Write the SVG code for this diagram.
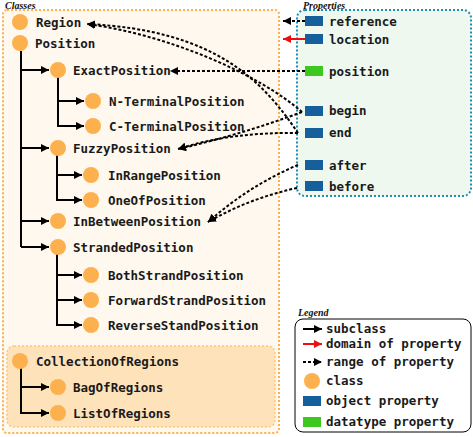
<svg xmlns="http://www.w3.org/2000/svg" width="473" height="437" viewBox="0 0 473 437">
<defs>
<style>
.lbl{font-family:"DejaVu Sans Mono","Liberation Mono",monospace;font-size:12.5px;font-weight:bold;fill:#1a1a1a;}
.ttl{font-family:"Liberation Serif",serif;font-style:italic;font-weight:bold;font-size:10px;fill:#111;}
.cls{fill:#FDB14E;}
.obj{fill:#155F9C;}
.dat{fill:#3CC81E;}
.sub{fill:none;stroke:#000;stroke-width:2;}
.rng{fill:none;stroke:#000;stroke-width:2;stroke-dasharray:3 2;}
.dom{fill:none;stroke:#E81010;stroke-width:2;}
</style>
<marker id="ah" markerUnits="userSpaceOnUse" markerWidth="10" markerHeight="10" refX="8" refY="4" orient="auto"><path d="M0,0 L8,4 L0,8 Z" fill="#000"/></marker>
<marker id="ahr" markerUnits="userSpaceOnUse" markerWidth="10" markerHeight="10" refX="8" refY="4" orient="auto"><path d="M0,0 L8,4 L0,8 Z" fill="#E81010"/></marker>
</defs>
<rect width="473" height="437" fill="#fff"/>

<!-- containers -->
<g id="classes-box">
<rect x="3" y="10" width="276" height="423" rx="4" fill="#FFF8EE" stroke="#FDB14E" stroke-width="2" stroke-dasharray="2 2"/>
<text class="ttl" x="5" y="9">Classes</text>
</g>
<g id="collection-box">
<rect x="7" y="346" width="268" height="81" rx="7" fill="#FDE2BA" stroke="#FDC77A" stroke-width="1.5" stroke-dasharray="2 2"/>
</g>
<g id="properties-box">
<rect x="297" y="10" width="174" height="186" rx="8" fill="#EEF8EE" stroke="#1E8EB4" stroke-width="2" stroke-dasharray="2 2"/>
<text class="ttl" x="303" y="9">Properties</text>
</g>

<!-- connectors -->
<g id="connectors">
<!-- subclass -->
<path class="sub" d="M21,51 V247"/>
<path class="sub" d="M21,70 H49" marker-end="url(#ah)"/>
<path class="sub" d="M21,148 H49" marker-end="url(#ah)"/>
<path class="sub" d="M21,221 H49" marker-end="url(#ah)"/>
<path class="sub" d="M21,247 H49" marker-end="url(#ah)"/>
<path class="sub" d="M58,77 V126 H84" marker-end="url(#ah)"/>
<path class="sub" d="M58,101 H84" marker-end="url(#ah)"/>
<path class="sub" d="M57,155 V200 H82" marker-end="url(#ah)"/>
<path class="sub" d="M57,175 H82" marker-end="url(#ah)"/>
<path class="sub" d="M57,254 V325 H82" marker-end="url(#ah)"/>
<path class="sub" d="M57,275 H82" marker-end="url(#ah)"/>
<path class="sub" d="M57,300 H82" marker-end="url(#ah)"/>
<path class="sub" d="M21,368 V413 H49" marker-end="url(#ah)"/>
<path class="sub" d="M21,387 H49" marker-end="url(#ah)"/>
<!-- domain -->
<path class="dom" d="M305,39 H283" marker-end="url(#ahr)"/>
<!-- range -->
<path class="rng" d="M305,21 H283" marker-end="url(#ah)"/>
<path class="rng" d="M305,71 H170" marker-end="url(#ah)"/>
<path class="rng" d="M302,112 C260,75 170,35 87,24" marker-end="url(#ah)"/>
<path class="rng" d="M298,133 C262,80 215,30 87,24" marker-end="url(#ah)"/>
<path class="rng" d="M302,112 Q240,135 178,149" marker-end="url(#ah)"/>
<path class="rng" d="M298,133 Q230,132 178,149" marker-end="url(#ah)"/>
<path class="rng" d="M298,165 Q250,185 208,222" marker-end="url(#ah)"/>
<path class="rng" d="M297,188 Q250,198 208,222" marker-end="url(#ah)"/>
</g>

<!-- class nodes -->
<g id="Region"><circle class="cls" cx="20" cy="22" r="8"/><text class="lbl" x="36" y="27">Region</text></g>
<g id="Position"><circle class="cls" cx="20" cy="43" r="8"/><text class="lbl" x="35" y="48">Position</text></g>
<g id="ExactPosition"><circle class="cls" cx="58" cy="70" r="8"/><text class="lbl" x="73" y="75">ExactPosition</text></g>
<g id="N-TerminalPosition"><circle class="cls" cx="93" cy="101" r="8"/><text class="lbl" x="109" y="106">N-TerminalPosition</text></g>
<g id="C-TerminalPosition"><circle class="cls" cx="93" cy="126" r="8"/><text class="lbl" x="109" y="131">C-TerminalPosition</text></g>
<g id="FuzzyPosition"><circle class="cls" cx="58" cy="148" r="8"/><text class="lbl" x="73" y="153">FuzzyPosition</text></g>
<g id="InRangePosition"><circle class="cls" cx="91" cy="175" r="8"/><text class="lbl" x="108" y="180">InRangePosition</text></g>
<g id="OneOfPosition"><circle class="cls" cx="91" cy="200" r="8"/><text class="lbl" x="108" y="205">OneOfPosition</text></g>
<g id="InBetweenPosition"><circle class="cls" cx="58" cy="221" r="8"/><text class="lbl" x="73" y="226">InBetweenPosition</text></g>
<g id="StrandedPosition"><circle class="cls" cx="58" cy="247" r="8"/><text class="lbl" x="73" y="252">StrandedPosition</text></g>
<g id="BothStrandPosition"><circle class="cls" cx="91" cy="275" r="8"/><text class="lbl" x="108" y="280">BothStrandPosition</text></g>
<g id="ForwardStrandPosition"><circle class="cls" cx="91" cy="300" r="8"/><text class="lbl" x="108" y="305">ForwardStrandPosition</text></g>
<g id="ReverseStandPosition"><circle class="cls" cx="91" cy="325" r="8"/><text class="lbl" x="108" y="330">ReverseStandPosition</text></g>
<g id="CollectionOfRegions"><circle class="cls" cx="20" cy="361" r="8"/><text class="lbl" x="36" y="366">CollectionOfRegions</text></g>
<g id="BagOfRegions"><circle class="cls" cx="58" cy="387" r="8"/><text class="lbl" x="73" y="392">BagOfRegions</text></g>
<g id="ListOfRegions"><circle class="cls" cx="58" cy="413" r="8"/><text class="lbl" x="73" y="418">ListOfRegions</text></g>

<!-- property nodes -->
<g id="reference"><rect class="obj" x="305" y="16" width="18" height="10"/><text class="lbl" x="329" y="26">reference</text></g>
<g id="location"><rect class="obj" x="305" y="34" width="18" height="10"/><text class="lbl" x="329" y="44">location</text></g>
<g id="position"><rect class="dat" x="305" y="66" width="18" height="10"/><text class="lbl" x="329" y="76">position</text></g>
<g id="begin"><rect class="obj" x="305" y="106" width="18" height="10"/><text class="lbl" x="329" y="115">begin</text></g>
<g id="end"><rect class="obj" x="305" y="128" width="18" height="10"/><text class="lbl" x="329" y="137">end</text></g>
<g id="after"><rect class="obj" x="305" y="160" width="18" height="10"/><text class="lbl" x="329" y="170">after</text></g>
<g id="before"><rect class="obj" x="305" y="181" width="18" height="10"/><text class="lbl" x="329" y="191">before</text></g>

<!-- legend -->
<g id="legend">
<text class="ttl" x="298" y="316">Legend</text>
<rect x="295" y="319" width="176" height="113" rx="8" fill="#fff" stroke="#000" stroke-width="1"/>
<path class="sub" d="M303,329 H322" marker-end="url(#ah)"/>
<text class="lbl" x="326" y="333">subclass</text>
<path class="dom" d="M303,344 H322" marker-end="url(#ahr)"/>
<text class="lbl" x="326" y="348">domain of property</text>
<path class="rng" d="M303,362 H322" marker-end="url(#ah)"/>
<text class="lbl" x="326" y="366">range of property</text>
<circle class="cls" cx="312" cy="381" r="8"/>
<text class="lbl" x="326" y="385">class</text>
<rect class="obj" x="303" y="396" width="18" height="10"/>
<text class="lbl" x="326" y="405">object property</text>
<rect class="dat" x="303" y="417" width="18" height="10"/>
<text class="lbl" x="326" y="426">datatype property</text>
</g>
</svg>
